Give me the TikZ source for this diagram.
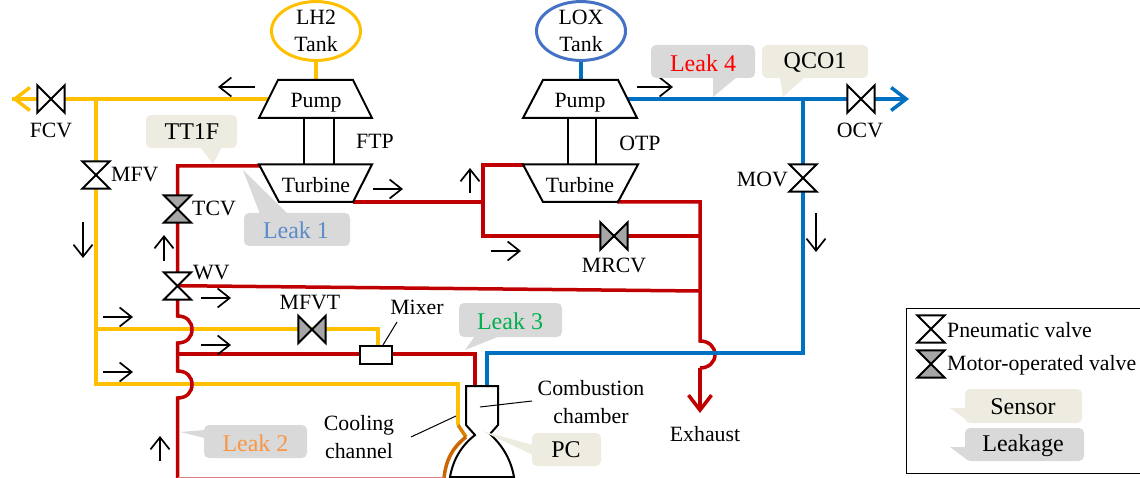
\documentclass[tikz,border=0pt]{standalone}
\usepackage{fontspec}
\setmainfont{Liberation Serif}
\usetikzlibrary{arrows.meta,calc,shapes.geometric}
\definecolor{lh}{HTML}{FFC000}
\definecolor{hot}{HTML}{C00000}
\definecolor{lox}{HTML}{0070C0}
\definecolor{loxtank}{HTML}{4472C4}
\definecolor{sensorbg}{HTML}{EEECE1}
\definecolor{leakbg}{HTML}{D9D9D9}
\definecolor{motor}{HTML}{A6A6A6}
\definecolor{burn}{HTML}{CC6600}
\definecolor{leakone}{HTML}{5B8BC9}
\definecolor{leaktwo}{HTML}{F79646}
\definecolor{leakthree}{HTML}{00B050}
\tikzset{
  x=1pt,y=-1pt,
  lhpipe/.style={draw=lh,line width=3.5pt,line join=miter},
  hotpipe/.style={draw=hot,line width=3.5pt,line join=miter},
  loxpipe/.style={draw=lox,line width=3.5pt,line join=miter},
  bigtip/.style={-{Straight Barb[length=15pt,width=23pt]}},
  flow/.style={draw=black,line width=1.7pt,-{Straight Barb[length=12pt,width=19pt]}},
  machine/.style={draw=black,line width=2pt,line join=miter},
  leader/.style={draw=black,line width=1pt},
  lab/.style={inner sep=0pt,font=\fontsize{21.8}{24}\selectfont,text=black},
  clab/.style={inner sep=0pt,font=\fontsize{24}{26}\selectfont},
  valvenode/.style={inner sep=0pt,minimum width=#1,minimum height=#1,rectangle},
  valveline/.style={draw=black,line width=2pt,line join=miter},
  tank/.style={ellipse,draw=#1,line width=3pt,minimum width=89pt,minimum height=51pt,inner sep=0pt,
     align=center,font=\fontsize{21.8}{27}\selectfont},
}
\newcommand{\vvalve}[3]{%
  \node[valvenode=27pt] (#1) at (#2) {};
  \draw[valveline,fill=#3] (#1.north west)--(#1.north east)--(#1.south west)--(#1.south east)--cycle;}
\newcommand{\hvalve}[3]{%
  \node[valvenode=27pt] (#1) at (#2) {};
  \draw[valveline,fill=#3] (#1.north west)--(#1.south west)--(#1.north east)--(#1.south east)--cycle;}
\newcommand{\flowmark}[3]{%
  \coordinate (#1s) at (#2); \coordinate (#1e) at (#3);
  \draw[flow] (#1s)--(#1e);}
\newcommand{\callout}[7]{%
  \fill[#2] (#5)--(#6)--(#7)--cycle;
  \fill[#2,rounded corners=5pt] (#3) rectangle (#4);
  \coordinate (#1) at ($(#3)!0.5!(#4)$);}
\begin{document}
\begin{tikzpicture}
\useasboundingbox (0,0) rectangle (1140,478);
\clip (0,0) rectangle (1140,478);

% ---------- junctions
\coordinate (lhtip) at (12,99);
\coordinate (lhT) at (96,99);
\coordinate (lhP) at (268,99);
\coordinate (lhA) at (96,329);
\coordinate (lhB) at (96,384);
\coordinate (lhAe) at (378,329);
\coordinate (lhBe) at (458,384);
\coordinate (lhC) at (458,425);
\coordinate (lhD) at (466,437);
\coordinate (lhE) at (444,478);
\coordinate (mixtop) at (378,345);
\coordinate (ftpout) at (353,202);
\coordinate (tcvtop) at (177.5,166);
\coordinate (ftpin) at (260,166);
\coordinate (jA1) at (177.5,316);
\coordinate (jA2) at (177.5,343);
\coordinate (jB1) at (177.5,371);
\coordinate (jB2) at (177.5,398);
\coordinate (bot) at (177.5,478);
\coordinate (mixbranch) at (177.5,354);
\coordinate (wvout) at (177.5,285.7);
\coordinate (hotJ) at (483,202);
\coordinate (otpT) at (483,165);
\coordinate (otpin) at (524,165);
\coordinate (mrcvL) at (483,236);
\coordinate (mrcvR) at (700,236);
\coordinate (otpout) at (617,202);
\coordinate (exT) at (700,202);
\coordinate (exW) at (700,291);
\coordinate (ex1) at (700,341);
\coordinate (ex2) at (700,368);
\coordinate (extip) at (700,413);
\coordinate (r1) at (475,354);
\coordinate (r2) at (475,386);
\coordinate (b1) at (487,353);
\coordinate (b2) at (487,386);
\coordinate (b3) at (803,353);
\coordinate (bT) at (803,99);
\coordinate (bP) at (628,99);
\coordinate (btip) at (909,99);

% ---------- pipes
\draw[lhpipe] (lhtip)--(lhP);
\draw[lhpipe,bigtip] (lhT)--(lhtip);
\draw[lhpipe] (lhT)--(lhB)--(lhBe)--(lhC);
\draw[lhpipe] (lhA)--(lhAe)--(mixtop);
\draw[draw=burn!70!lh,line width=3.5pt] (lhC)--(lhD);
\draw[draw=burn,line width=3.5pt] (lhD) .. controls (452,448) and (446,460) .. (lhE);

\draw[hotpipe] (ftpin)--(tcvtop)--(jA1)
  .. controls (187,316) and (192,322) .. (192,329.5)
  .. controls (192,337) and (187,343) .. (jA2)--(jB1)
  .. controls (187,371) and (192,377) .. (192,384.5)
  .. controls (192,392) and (187,398) .. (jB2)--(bot);
\draw[draw=hot!50,line width=2pt] (bot)--(lhE);
\draw[hotpipe] (mixbranch)--(r1)--(r2);
\draw[hotpipe] (ftpout)--(hotJ);
\draw[hotpipe] (otpin)--(otpT)--(mrcvL)--(mrcvR);
\draw[hotpipe] (otpout)--(exT)--(ex1)
  .. controls (709,341) and (715,347) .. (715,354.5)
  .. controls (715,362) and (709,368) .. (ex2);
\draw[hotpipe,bigtip] (ex2)--(extip);
\draw[hotpipe] (wvout)--(exW);

\draw[loxpipe] (b2)--(b1)--(b3)--(bT);
\draw[loxpipe,bigtip] (bP)--(btip);

% ---------- tanks
\node[tank=lh] (lh2tank) at (316,31) {LH2\\Tank};
\coordinate (lhpt) at (316,80);
\draw[draw=lh,line width=3.5pt] (lh2tank)--(lhpt);
\node[tank=loxtank] (loxtankn) at (581,31) {LOX\\Tank};
\coordinate (loxpt) at (581,80);
\draw[draw=lox,line width=3.5pt] (loxtankn)--(loxpt);

% ---------- turbopumps
\draw[machine] (278,80)--(353,80)--(372,118)--(259,118)--cycle;
\draw[machine] (259,164.5)--(372,164.5)--(353,202)--(279,202)--cycle;
\draw[machine] (303.5,118)--(303.5,164.5) (334,118)--(334,164.5);
\draw[machine] (543,80)--(618,80)--(637,118)--(523,118)--cycle;
\draw[machine] (523,164.5)--(638,164.5)--(618,202)--(543,202)--cycle;
\draw[machine] (568,118)--(568,164.5) (596,118)--(596,164.5);
\node[lab] (fpump) at (316,102.5) {Pump};
\node[lab] (fturb) at (316,185) {Turbine};
\node[lab] (opump) at (580,102.5) {Pump};
\node[lab] (oturb) at (580,185) {Turbine};
\node[lab] (ftp) at (375,141) {FTP};
\node[lab] (otp) at (640,143) {OTP};

% ---------- valves
\hvalve{fcv}{51,99}{white}
\vvalve{mfv}{96,175}{white}
\vvalve{tcv}{177.5,209}{motor}
\vvalve{wv}{177.5,286}{white}
\hvalve{mfvt}{312,329.5}{motor}
\hvalve{mrcv}{614,236}{motor}
\vvalve{mov}{803,178}{white}
\hvalve{ocv}{861,99}{white}

\node[lab] (lfcv) at (51,130) {FCV};
\node[lab,anchor=west] (lmfv) at (111,175) {MFV};
\node[lab,anchor=west] (ltcv) at (192,208) {TCV};
\node[lab,anchor=west] (lwv) at (193,273) {WV};
\node[lab] (lmfvt) at (310,303) {MFVT};
\node[lab] (lmrcv) at (614,265) {MRCV};
\node[lab,anchor=east] (lmov) at (788,179) {MOV};
\node[lab] (locv) at (860,130) {OCV};

% ---------- mixer
\node[draw=black,line width=2pt,fill=white,minimum width=32pt,minimum height=18pt,inner sep=0pt] (mixer) at (375.5,354.5) {};
\node[lab] (lmixer) at (417,307) {Mixer};
\coordinate (mixlead) at (397,322);
\coordinate (mixleadb) at (383,345);
\draw[leader] (mixlead)--(mixleadb);

% ---------- chamber
\draw[machine,fill=white] (466,386)--(498,386)--(498,425)--(490,434)
  .. controls (503,446) and (511,460) .. (514,477)--(450,477)
  .. controls (453,460) and (461,446) .. (475,435)--(466,425)--cycle;
\coordinate (cin) at (480,407);
\coordinate (cout) at (532,401);
\draw[leader] (cin)--(cout);
\node[lab] (lcomb) at (591,388) {Combustion};
\node[lab] (lcham) at (591,416) {chamber};
\coordinate (cool1) at (411,437);
\coordinate (cool2) at (456,416);
\draw[leader] (cool1)--(cool2);
\node[lab] (lcool) at (359,425) {Cooling};
\node[lab] (lchan) at (359,451) {channel};
\node[lab] (lexh) at (705,434) {Exhaust};

% ---------- flow marks
\flowmark{fa}{255,87}{218,87}
\flowmark{fb}{373,189}{403,189}
\flowmark{fc}{83,222}{83,258}
\flowmark{fd}{164,261}{164,235}
\flowmark{fe}{201,298}{231,298}
\flowmark{ff}{103,317}{133,317}
\flowmark{fg}{201,345}{231,345}
\flowmark{fh}{103,372}{133,372}
\flowmark{fi}{160,461}{160,436}
\flowmark{fj}{637,87}{673,87}
\flowmark{fk}{470,193}{470,168}
\flowmark{fl}{491,251}{521,251}
\flowmark{fm}{816,213}{816,252}

% ---------- callouts
\callout{cTT}{sensorbg}{146,115}{237,148}{213,164}{200,147}{222,147}
\node[clab] (tTT) at (192,132) {TT1F};
\callout{cL1}{leakbg}{244,213}{350,246}{243,170}{260,214}{288,214}
\node[clab,text=leakone] (tL1) at (296,230) {Leak 1};
\callout{cL2}{leakbg}{204,425}{307,458}{180,432}{205,430}{205,438}
\node[clab,text=leaktwo] (tL2) at (255.5,443) {Leak 2};
\callout{cL3}{leakbg}{459,303}{562,337}{465,350}{475,336}{500,336}
\node[clab,text=leakthree] (tL3) at (510,321) {Leak 3};
\callout{cL4}{leakbg}{651,45}{755,78}{713,97}{713,77}{737,77}
\node[clab,text=red] (tL4) at (703,63) {Leak 4};
\callout{cQ}{sensorbg}{762,45}{868,78}{783,97}{780,77}{805,77}
\node[clab] (tQ) at (815,63) {QCO1};
\callout{cPC}{sensorbg}{532,433}{601,466}{482,431}{533,445}{533,455}
\node[clab] (tPC) at (566,450) {PC};

% ---------- legend
\coordinate (lega) at (1141,308); \coordinate (legb) at (906,308);
\coordinate (legc) at (906,473); \coordinate (legd) at (1141,473);
\draw[draw=black,line width=1pt] (lega)--(legb)--(legc)--(legd);
\vvalve{legP}{931,329}{white}
\vvalve{legM}{931,364}{motor}
\node[lab,anchor=west] (tP) at (947,330) {Pneumatic valve};
\node[lab,anchor=west] (tM) at (947,365) {Motor-operated valve};
\callout{cS}{sensorbg}{965,389}{1082,423}{950,408}{966,408}{966,420}
\node[clab] (tS) at (1023,407) {Sensor};
\callout{cK}{leakbg}{965,428}{1084,461}{950,447}{966,447}{966,459}
\node[clab] (tK) at (1023,446) {Leakage};
\end{tikzpicture}
\end{document}
